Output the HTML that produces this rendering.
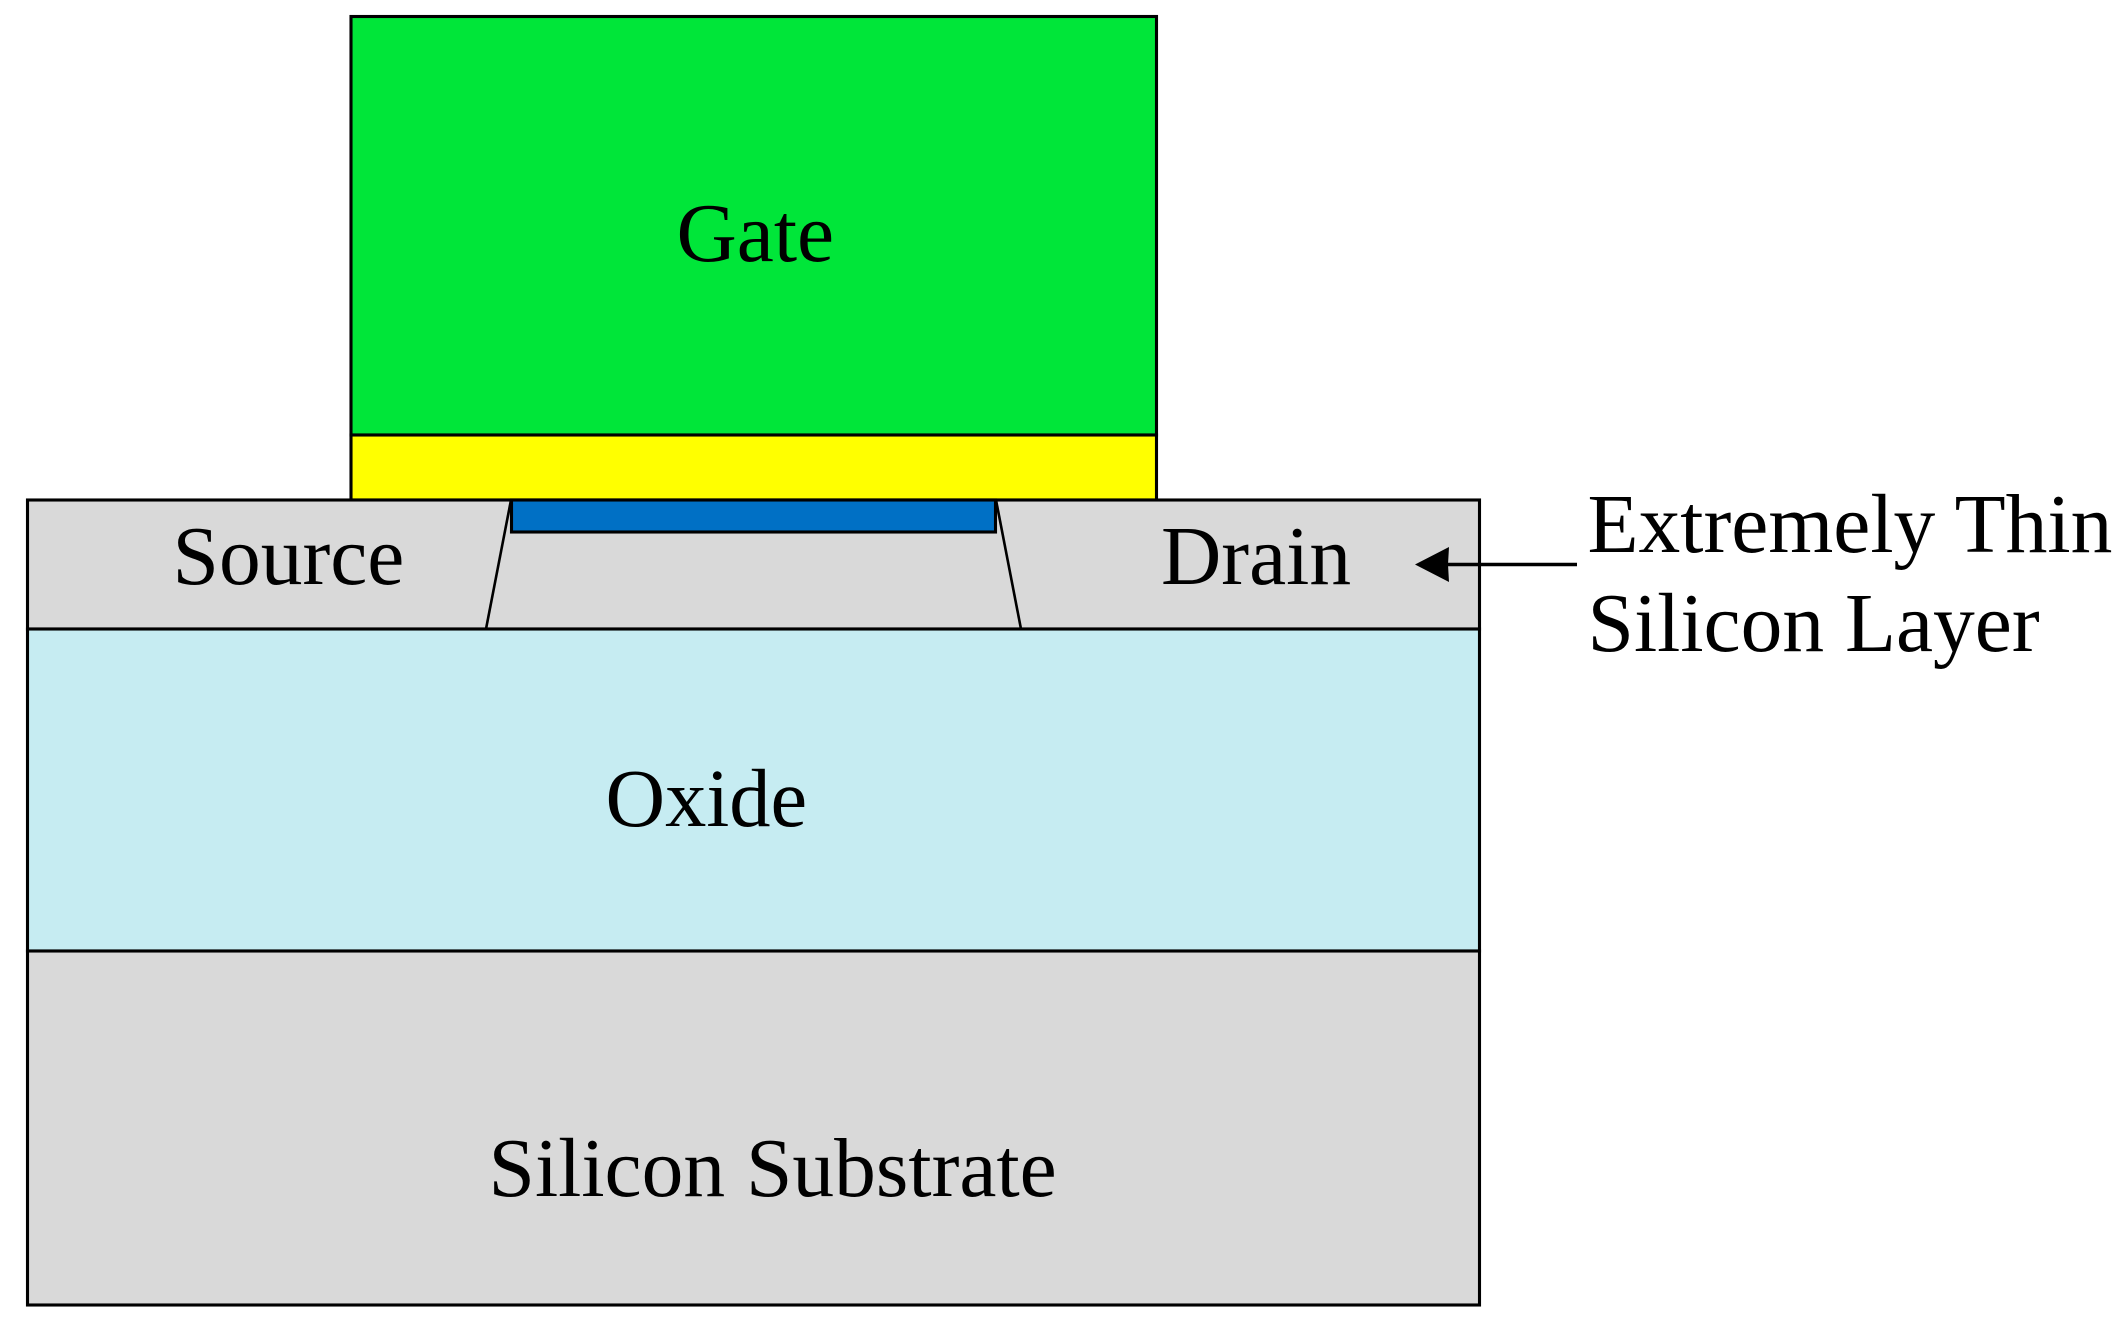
<!DOCTYPE html>
<html>
<head>
<meta charset="utf-8">
<style>
html,body{margin:0;padding:0;background:#fff;width:2126px;height:1325px;overflow:hidden}
svg{display:block}
text{font-family:"Liberation Serif",serif;font-size:83.5px;fill:#000}
</style>
</head>
<body>
<svg width="2126" height="1325" viewBox="0 0 2126 1325" xmlns="http://www.w3.org/2000/svg">
<g stroke="#000" stroke-width="3.1">
<rect x="351" y="16.5" width="805.5" height="418.5" fill="#00e639"/>
<rect x="351" y="435" width="805.5" height="65" fill="#ffff00"/>
<rect x="27.5" y="500" width="1452" height="129" fill="#d9d9d9"/>
<rect x="27.5" y="629" width="1452" height="322" fill="#c6ecf2"/>
<rect x="27.5" y="951" width="1452" height="354" fill="#d9d9d9"/>
<rect x="511.5" y="500" width="484" height="32" fill="#0070c5"/>
<line x1="511" y1="500" x2="486" y2="629" stroke-width="2.6"/>
<line x1="996" y1="500" x2="1021" y2="629" stroke-width="2.6"/>
<line x1="1445" y1="564.5" x2="1577" y2="564.5" stroke-width="3.4"/>
</g>
<polygon points="1415,564.5 1449,547 1448,564.5 1449,582" fill="#000"/>
<text x="676.5" y="261">Gate</text>
<text x="172.5" y="584" font-size="83">Source</text>
<text x="1161" y="584" font-size="83">Drain</text>
<text x="1587.5" y="552">Extremely Thin</text>
<text x="1587.5" y="651">Silicon Layer</text>
<text x="605.5" y="826" style="font-size:82.5px">Oxide</text>
<text x="488.5" y="1196">Silicon Substrate</text>
</svg>
</body>
</html>
